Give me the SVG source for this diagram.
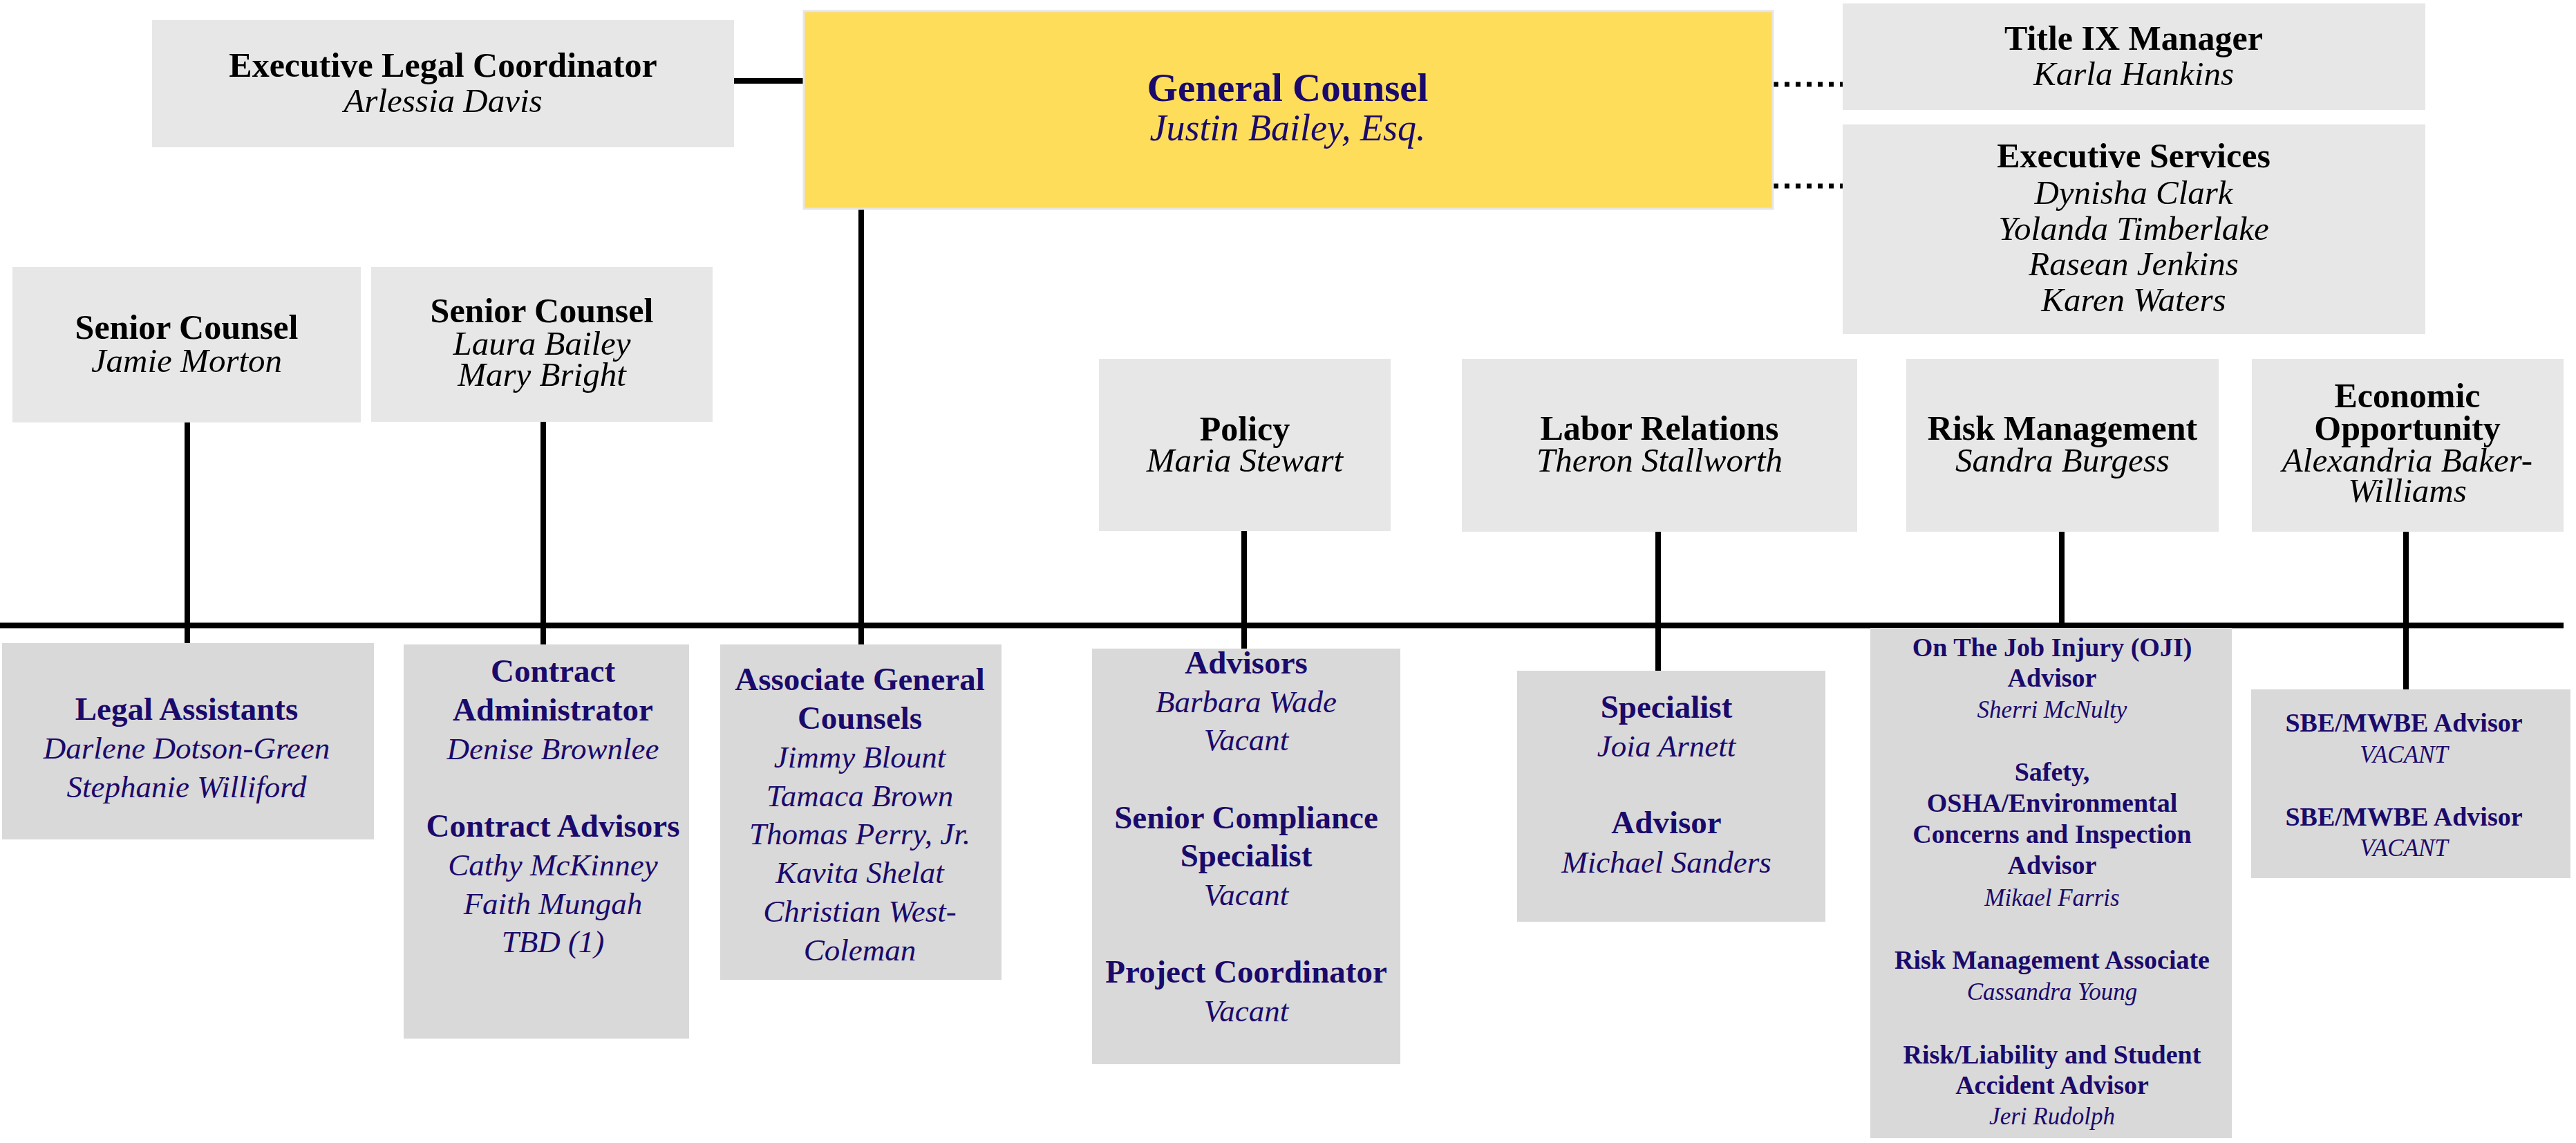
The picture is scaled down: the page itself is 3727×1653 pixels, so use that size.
<svg xmlns="http://www.w3.org/2000/svg" width="3727" height="1653" viewBox="0 0 3727 1653">
<style>
text{font-family:"Liberation Serif","DejaVu Serif",serif;text-anchor:middle}
.top{fill:#e7e7e7}
.sub{fill:#d9d9d9}
.t{font-weight:bold;font-size:50px;fill:#000}
.n{font-style:italic;font-size:49px;fill:#000}
.st{font-weight:bold;font-size:47px;fill:#1a0a6b}
.sn{font-style:italic;font-size:45px;fill:#1a0a6b}
.ot{font-weight:bold;font-size:38px;fill:#1a0a6b}
.on{font-style:italic;font-size:35px;fill:#1a0a6b}
.ln{stroke:#000;stroke-width:8;fill:none}
.dot{stroke:#000;stroke-width:7;stroke-dasharray:7 9;fill:none}
</style>
<rect width="3727" height="1653" fill="#fff"/>
<g id="connectors">
<line class="ln" x1="1062" y1="117" x2="1163" y2="117"/>
<line class="dot" x1="2566" y1="122" x2="2666" y2="122"/>
<line class="dot" x1="2566" y1="269" x2="2666" y2="269"/>
<line class="ln" x1="1246" y1="297" x2="1246" y2="932"/>
<line class="ln" x1="0" y1="904.5" x2="3709" y2="904.5"/>
<line class="ln" x1="271" y1="611" x2="271" y2="930"/>
<line class="ln" x1="786" y1="610" x2="786" y2="932"/>
<line class="ln" x1="1800" y1="768" x2="1800" y2="938"/>
<line class="ln" x1="2399" y1="769" x2="2399" y2="970"/>
<line class="ln" x1="2983" y1="769" x2="2983" y2="908"/>
<line class="ln" x1="3481" y1="769" x2="3481" y2="997"/>
</g>
<g id="exec-legal-coordinator">
<rect class="top" x="220" y="29" width="842" height="184"/>
<text class="t" x="641" y="111">Executive Legal Coordinator</text>
<text class="n" x="641" y="162">Arlessia Davis</text>
</g>
<g id="general-counsel">
<rect x="1163" y="16" width="1402" height="286" fill="#fedd5b" stroke="#e6e6e6" stroke-width="3"/>
<text x="1863" y="146" style="font-weight:bold;font-size:57px;fill:#1a0a6b">General Counsel</text>
<text x="1863" y="203" style="font-style:italic;font-size:54px;fill:#1a0a6b">Justin Bailey, Esq.</text>
</g>
<g id="title-ix">
<rect class="top" x="2666" y="5" width="843" height="154"/>
<text class="t" x="3087" y="72">Title IX Manager</text>
<text class="n" x="3087" y="123">Karla Hankins</text>
</g>
<g id="exec-services">
<rect class="top" x="2666" y="180" width="843" height="303"/>
<text class="t" x="3087" y="242">Executive Services</text>
<text class="n" x="3087" y="295">Dynisha Clark</text>
<text class="n" x="3087" y="347">Yolanda Timberlake</text>
<text class="n" x="3087" y="398">Rasean Jenkins</text>
<text class="n" x="3087" y="450">Karen Waters</text>
</g>
<g id="senior-counsel-1">
<rect class="top" x="18" y="386" width="504" height="225"/>
<text class="t" x="270" y="490">Senior Counsel</text>
<text class="n" x="270" y="538">Jamie Morton</text>
</g>
<g id="senior-counsel-2">
<rect class="top" x="537" y="386" width="494" height="224"/>
<text class="t" x="784" y="466">Senior Counsel</text>
<text class="n" x="784" y="513">Laura Bailey</text>
<text class="n" x="784" y="558">Mary Bright</text>
</g>
<g id="policy">
<rect class="top" x="1590" y="519" width="422" height="249"/>
<text class="t" x="1801" y="637">Policy</text>
<text class="n" x="1801" y="682">Maria Stewart</text>
</g>
<g id="labor-relations">
<rect class="top" x="2115" y="519" width="572" height="250"/>
<text class="t" x="2401" y="636">Labor Relations</text>
<text class="n" x="2401" y="682">Theron Stallworth</text>
</g>
<g id="risk-management">
<rect class="top" x="2758" y="519" width="452" height="250"/>
<text class="t" x="2984" y="636">Risk Management</text>
<text class="n" x="2984" y="682">Sandra Burgess</text>
</g>
<g id="economic-opportunity">
<rect class="top" x="3258" y="519" width="451" height="250"/>
<text class="t" x="3483" y="589">Economic</text>
<text class="t" x="3483" y="636">Opportunity</text>
<text class="n" x="3483" y="682">Alexandria Baker-</text>
<text class="n" x="3483" y="726">Williams</text>
</g>
<g id="legal-assistants">
<rect class="sub" x="3" y="930" width="538" height="284"/>
<text class="st" x="270" y="1041">Legal Assistants</text>
<text class="sn" x="270" y="1097">Darlene Dotson-Green</text>
<text class="sn" x="270" y="1153">Stephanie Williford</text>
</g>
<g id="contracts">
<rect class="sub" x="584" y="932" width="413" height="570"/>
<text class="st" x="800" y="986">Contract</text>
<text class="st" x="800" y="1042">Administrator</text>
<text class="sn" x="800" y="1098">Denise Brownlee</text>
<text class="st" x="800" y="1210">Contract Advisors</text>
<text class="sn" x="800" y="1266">Cathy McKinney</text>
<text class="sn" x="800" y="1322">Faith Mungah</text>
<text class="sn" x="800" y="1377">TBD (1)</text>
</g>
<g id="associate-general-counsels">
<rect class="sub" x="1042" y="932" width="407" height="485"/>
<text class="st" x="1244" y="998">Associate General</text>
<text class="st" x="1244" y="1054">Counsels</text>
<text class="sn" x="1244" y="1110">Jimmy Blount</text>
<text class="sn" x="1244" y="1166">Tamaca Brown</text>
<text class="sn" x="1244" y="1221">Thomas Perry, Jr.</text>
<text class="sn" x="1244" y="1277">Kavita Shelat</text>
<text class="sn" x="1244" y="1333">Christian West-</text>
<text class="sn" x="1244" y="1389">Coleman</text>
</g>
<g id="policy-staff">
<rect class="sub" x="1580" y="938" width="446" height="601"/>
<text class="st" x="1803" y="974">Advisors</text>
<text class="sn" x="1803" y="1030">Barbara Wade</text>
<text class="sn" x="1803" y="1085">Vacant</text>
<text class="st" x="1803" y="1198">Senior Compliance</text>
<text class="st" x="1803" y="1253">Specialist</text>
<text class="sn" x="1803" y="1309">Vacant</text>
<text class="st" x="1803" y="1421">Project Coordinator</text>
<text class="sn" x="1803" y="1477">Vacant</text>
</g>
<g id="labor-staff">
<rect class="sub" x="2195" y="970" width="446" height="363"/>
<text class="st" x="2411" y="1038">Specialist</text>
<text class="sn" x="2411" y="1094">Joia Arnett</text>
<text class="st" x="2411" y="1205">Advisor</text>
<text class="sn" x="2411" y="1262">Michael Sanders</text>
</g>
<g id="risk-staff">
<rect class="sub" x="2706" y="908" width="523" height="738"/>
<text class="ot" x="2969" y="949">On The Job Injury (OJI)</text>
<text class="ot" x="2969" y="993">Advisor</text>
<text class="on" x="2969" y="1038">Sherri McNulty</text>
<text class="ot" x="2969" y="1129">Safety,</text>
<text class="ot" x="2969" y="1174">OSHA/Environmental</text>
<text class="ot" x="2969" y="1219">Concerns and Inspection</text>
<text class="ot" x="2969" y="1264">Advisor</text>
<text class="on" x="2969" y="1310">Mikael Farris</text>
<text class="ot" x="2969" y="1401">Risk Management Associate</text>
<text class="on" x="2969" y="1446">Cassandra Young</text>
<text class="ot" x="2969" y="1538">Risk/Liability and Student</text>
<text class="ot" x="2969" y="1582">Accident Advisor</text>
<text class="on" x="2969" y="1626">Jeri Rudolph</text>
</g>
<g id="economic-staff">
<rect class="sub" x="3257" y="997" width="462" height="273"/>
<text class="ot" x="3478" y="1058">SBE/MWBE Advisor</text>
<text class="on" x="3478" y="1103">VACANT</text>
<text class="ot" x="3478" y="1194">SBE/MWBE Advisor</text>
<text class="on" x="3478" y="1238">VACANT</text>
</g>
</svg>
